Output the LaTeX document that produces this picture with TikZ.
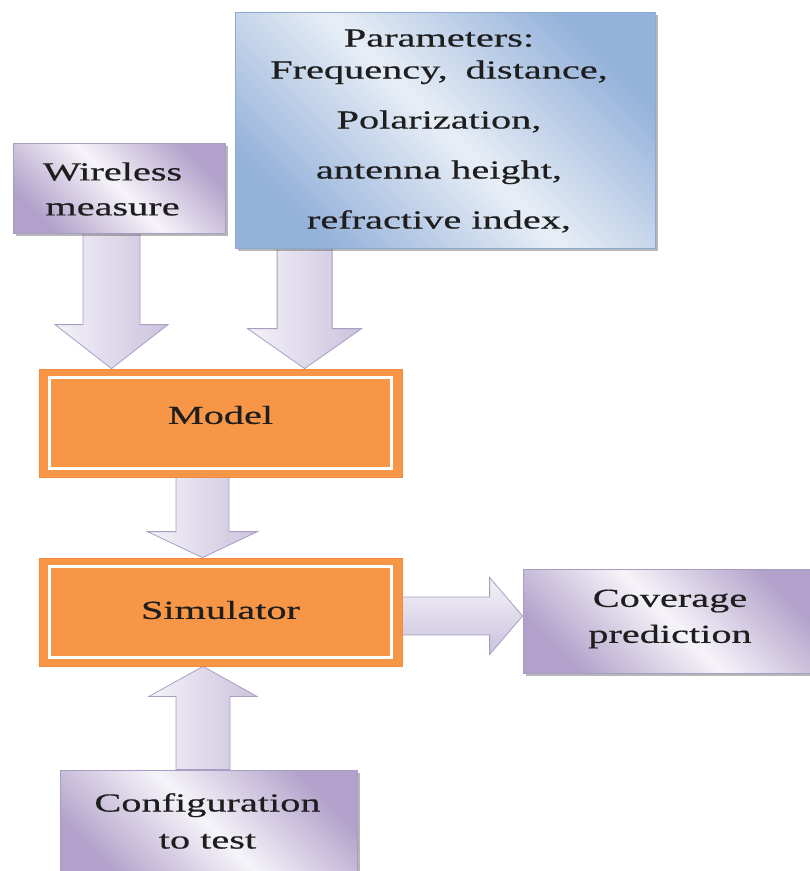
\documentclass[tikz,border=0pt]{standalone}
\usepackage{fontspec}
\setmainfont[FakeStretch=1.55,FakeBold=0.5]{Liberation Serif}
\usetikzlibrary{calc,shadows}

\definecolor{orangefill}{HTML}{F79646}
\definecolor{orangeedge}{HTML}{F38B3E}
\definecolor{lav}{HTML}{B2A2CB}
\definecolor{lavlight}{HTML}{F6F4F9}
\definecolor{lavedge}{HTML}{A79DC2}
\definecolor{bluedark}{HTML}{95B2DA}
\definecolor{bluelight}{HTML}{E8EEF6}
\definecolor{blueedge}{HTML}{8CA9CF}
\definecolor{ink}{HTML}{1E1E1E}
\definecolor{arrowA}{HTML}{F4F2F8}
\definecolor{arrowB}{HTML}{CBC2DD}
\definecolor{arrowedge}{HTML}{A89EC4}

\pgfdeclarelayer{back}
\pgfsetlayers{back,main}

\tikzset{
  lbl/.style={inner sep=0pt, align=center, text=ink, font=\fontsize{26}{35}\selectfont},
  softshadow/.style={drop shadow={shadow xshift=3pt, shadow yshift=-3pt, opacity=0.4, fill=black!70}},
  lilacbox/.style={draw=lavedge, line width=0.8pt, inner sep=0pt,
    left color=lav, right color=lav, middle color=lavlight, shading angle=-45, softshadow},
  bluebox/.style={draw=blueedge, line width=0.8pt, inner sep=0pt,
    left color=bluedark, right color=bluedark, middle color=bluelight, shading angle=-45, softshadow},
  corebox/.style={draw=orangeedge, fill=orangefill, line width=0.8pt, inner sep=0pt,
    minimum width=363pt, minimum height=108pt},
  innerframe/.style={draw=white, line width=2.5pt},
  fatarrowv/.style={draw=arrowedge, line width=0.8pt, left color=arrowA, right color=arrowB},
  fatarrowh/.style={draw=arrowedge, line width=0.8pt, top color=arrowA, bottom color=arrowB},
}

% block arrow from #1 to tip #2: half shaft #3, half head #4, head length #5, style #6
\newcommand{\blockarrow}[6]{%
  \coordinate (ahb) at ($(#2)!#5!(#1)$);
  \path[#6] ($(#1)!#3!90:(#2)$) -- ($(ahb)!#3!90:(#2)$) -- ($(ahb)!#4!90:(#2)$)
    -- (#2) -- ($(ahb)!#4!-90:(#2)$) -- ($(ahb)!#3!-90:(#2)$) -- ($(#1)!#3!-90:(#2)$) -- cycle;
}

\begin{document}
\begin{tikzpicture}[x=1pt,y=-1pt]
\useasboundingbox (0,0) rectangle (810,871);

% boxes
\node[bluebox, minimum width=420pt, minimum height=236pt] (par) at (445,130) {};
\node[lilacbox, minimum width=212pt, minimum height=90pt] (wm) at (119,188) {};
\node[corebox] (model) at (220.5,423) {};
\node[corebox] (sim) at (220.5,612) {};
\node[lilacbox, minimum width=297pt, minimum height=104pt] (cov) at (671.5,621) {};
\node[lilacbox, minimum width=297pt, minimum height=110pt] (cfg) at (208.5,825) {};

% white frames inside the orange blocks
\draw[innerframe] ($(model.north west)+(11,9)$) rectangle ($(model.south east)+(-11,-9)$);
\draw[innerframe] ($(sim.north west)+(11,9)$) rectangle ($(sim.south east)+(-11,-9)$);

% labels
\node[lbl, font=\fontsize{26}{32}\selectfont] (parT) at ($(par.center)+(-6,1)$)
  {Parameters:\\Frequency,\hspace{0.3em} distance,\\[18pt]Polarization,\\[18pt]antenna height,\\[18pt]refractive index,};
\node[lbl] (wmT) at ($(wm.center)+(-6.5,1)$) {Wireless\\measure};
\node[lbl] (modelT) at ($(model.center)+(0,-8)$) {Model};
\node[lbl] (simT) at ($(sim.center)+(0,-2)$) {Simulator};
\node[lbl, font=\fontsize{26}{36}\selectfont] (covT) at ($(cov.center)+(-1.5,-2)$) {Coverage\\prediction};
\node[lbl, font=\fontsize{26}{37}\selectfont] (cfgT) at ($(cfg.center)+(-1,-4)$) {Configuration\\to test};

% block arrows, behind the boxes
\begin{pgfonlayer}{back}
  \coordinate (a1s) at ($(wm.south)+(-7.5,0)$);
  \coordinate (a1t) at (a1s |- model.north);
  \blockarrow{a1s}{a1t}{28.5pt}{56.5pt}{44pt}{fatarrowv}

  \coordinate (a2s) at ($(par.south west)+(70,0)$);
  \coordinate (a2t) at (a2s |- model.north);
  \blockarrow{a2s}{a2t}{27.5pt}{57pt}{40pt}{fatarrowv}

  \coordinate (a3s) at ($(model.south)+(-18,0)$);
  \coordinate (a3t) at (a3s |- sim.north);
  \blockarrow{a3s}{a3t}{26.5pt}{55pt}{26pt}{fatarrowv}

  \coordinate (a4s) at ($(cfg.north)+(-5.5,0)$);
  \coordinate (a4t) at (a4s |- sim.south);
  \blockarrow{a4s}{a4t}{27pt}{54pt}{30pt}{fatarrowv}

  \coordinate (a5s) at ($(sim.east)+(0,4)$);
  \coordinate (a5t) at (a5s -| cov.west);
  \blockarrow{a5s}{a5t}{19pt}{38.5pt}{33pt}{fatarrowh}
\end{pgfonlayer}
\end{tikzpicture}
\end{document}
